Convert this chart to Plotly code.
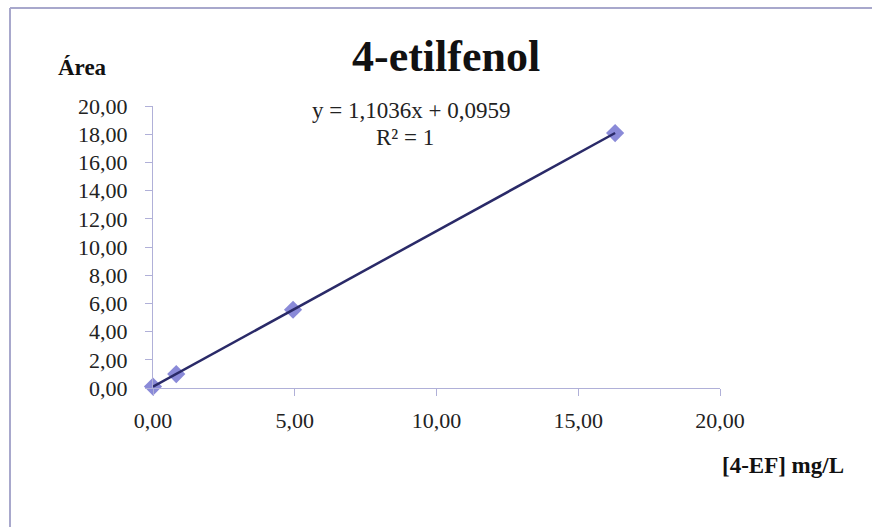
import plotly.graph_objects as go

# Data
conc = [0.0, 0.82, 4.94, 16.3]
area = [0.1, 0.99, 5.55, 18.08]
slope = 1.1036
intercept = 0.0959
x_ticks = [0, 5, 10, 15, 20]
y_ticks = [0, 2, 4, 6, 8, 10, 12, 14, 16, 18, 20]

W, H = 872, 527
L, R, T, B = 153, 152, 106, 139
pw, ph = W - L - R, H - T - B

def px(x):
    return (x - L) / pw

def py(y):
    return (H - B - y) / ph

fit_x = [min(conc), max(conc)]
fit_y = [slope * v + intercept for v in fit_x]

serif = "'Liberation Serif', 'DejaVu Serif', serif"

fig = go.Figure()
fig.add_trace(go.Scatter(
    x=conc, y=area, mode="markers",
    marker=dict(symbol="diamond", size=14, color="#8a8ad8",
                line=dict(width=0)),
    cliponaxis=False, showlegend=False))
fig.add_trace(go.Scatter(
    x=fit_x, y=fit_y, mode="lines",
    line=dict(color="#2a2a68", width=2.5),
    cliponaxis=False, showlegend=False))

axis_common = dict(
    showgrid=False, zeroline=False, showline=True,
    linecolor="#b0b0d8", linewidth=1,
    ticks="outside", ticklen=7, tickcolor="#b0b0d8",
    tickfont=dict(family=serif, size=22, color="#222222"),
    tickformat=".2f",
)

fig.update_layout(
    width=W, height=H,
    margin=dict(l=L, r=R, t=T, b=B),
    paper_bgcolor="white", plot_bgcolor="white",
    separators=",.",
    xaxis=dict(range=[0, 20], tickvals=x_ticks, ticklabelstandoff=6,
               **axis_common),
    yaxis=dict(range=[0, 20], tickvals=y_ticks, ticklabelstandoff=13,
               **axis_common),
    shapes=[
        dict(type="line", xref="paper", yref="paper",
             x0=px(10), x1=px(10), y0=py(8), y1=py(H + 5),
             line=dict(color="#a8a8cc", width=2)),
        dict(type="line", xref="paper", yref="paper",
             x0=px(10), x1=px(W + 5), y0=py(8), y1=py(8),
             line=dict(color="#a8a8cc", width=2)),
    ],
)

notes = [
    ("<b>4-etilfenol</b>", 446, 56, 44, "#111111"),
    ("<b>Área</b>", 82, 67, 23, "#111111"),
    ("<b>[4-EF] mg/L</b>", 783, 465, 23, "#111111"),
    ("y = 1,1036x + 0,0959", 411, 111, 23, "#222222"),
    ("R² = 1", 405, 137, 23, "#222222"),
]
for text, x, y, size, color in notes:
    fig.add_annotation(text=text, xref="paper", yref="paper",
                       x=px(x), y=py(y), xanchor="center", yanchor="middle",
                       showarrow=False,
                       font=dict(family=serif, size=size, color=color))

fig.write_html("out.html")
